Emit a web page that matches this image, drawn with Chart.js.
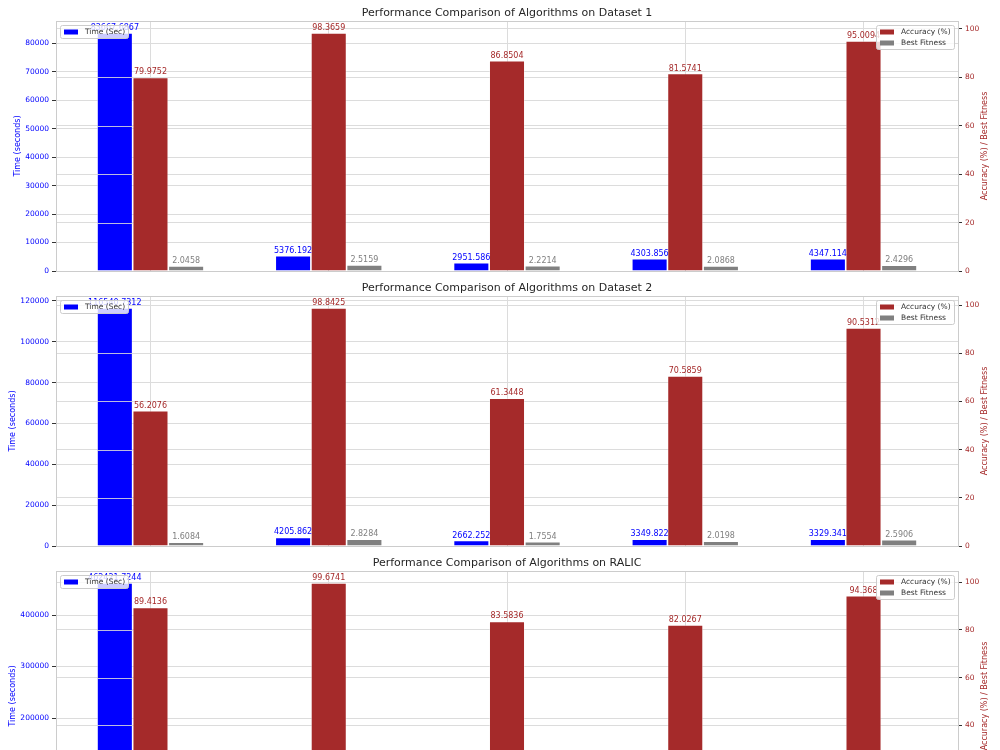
<!DOCTYPE html>
<html>
<head>
<meta charset="utf-8">
<title>Performance Comparison of Algorithms</title>
<script src="https://cdn.jsdelivr.net/npm/chart.js@4.4.0/dist/chart.umd.min.js"></script>
<style>
    html, body { margin: 0; padding: 0; background: #fff; }
    #wrap { width: 1000px; height: 750px; overflow: hidden; position: relative; }
    .panel { position: absolute; left: 0; width: 1000px; height: 275px; }
</style>
</head>
<body>
<div id="wrap">
    <div class="panel" style="top:0px"><canvas id="chart1" width="1000" height="275"></canvas></div>
    <div class="panel" style="top:275px"><canvas id="chart2" width="1000" height="275"></canvas></div>
    <div class="panel" style="top:550px"><canvas id="chart3" width="1000" height="275"></canvas></div>
</div>
<script>
// Datos
const algPositions = [0, 1, 2, 3, 4];

const time1 = [83667.6867, 5376.192, 2951.586, 4303.856, 4347.114];
const acc1 = [79.9752, 98.3659, 86.8504, 81.5741, 95.0094];
const fit1 = [2.0458, 2.5159, 2.2214, 2.0868, 2.4296];

const time2 = [116540.7312, 4205.862, 2662.252, 3349.822, 3329.341];
const acc2 = [56.2076, 98.8425, 61.3448, 70.5859, 90.5312];
const fit2 = [1.6084, 2.8284, 1.7554, 2.0198, 2.5906];

// RALIC: la parte baja del panel queda fuera de la imagen
const time3 = [462421.7244, 18524.663, 10217.418, 14102.937, 13988.205];
const acc3 = [89.4136, 99.6741, 83.5836, 82.0267, 94.368];
const fit3 = [2.4517, 2.9876, 1.9342, 2.1125, 2.7733];

const leftTicks1 = [0, 10000, 20000, 30000, 40000, 50000, 60000, 70000, 80000];
const leftTicks2 = [0, 20000, 40000, 60000, 80000, 100000, 120000];
const leftTicks3 = [0, 100000, 200000, 300000, 400000];
const rightTicks = [0, 20, 40, 60, 80, 100];

// Colores
const BLUE = '#0000ff';
const BROWN = '#a52a2a';
const GREY = '#808080';
const GRID = '#dcdcdc';
const SPINE = '#cccccc';
const TICK_FONT = "7.5px 'DejaVu Sans'";

Chart.defaults.font.family = "'DejaVu Sans', sans-serif";

function roundRect(ctx, x, y, w, h, r) {
    ctx.beginPath();
    ctx.moveTo(x + r, y);
    ctx.lineTo(x + w - r, y);
    ctx.quadraticCurveTo(x + w, y, x + w, y + r);
    ctx.lineTo(x + w, y + h - r);
    ctx.quadraticCurveTo(x + w, y + h, x + w - r, y + h);
    ctx.lineTo(x + r, y + h);
    ctx.quadraticCurveTo(x, y + h, x, y + h - r);
    ctx.lineTo(x, y + r);
    ctx.quadraticCurveTo(x, y, x + r, y);
    ctx.closePath();
}

// Estilo tipo matplotlib: título, etiquetas, spines y leyendas
const mplStyle = {
    id: 'mplStyle',
    afterDatasetDraw(chart, args) {
        // la rejilla del eje derecho queda encima de las barras azules
        if (args.index !== 0) return;
        const ctx = chart.ctx;
        const y2 = chart.scales.y2;
        ctx.save();
        ctx.strokeStyle = 'rgba(220,220,220,0.85)';
        ctx.lineWidth = 1;
        args.meta.data.forEach(bar => {
            const x0 = bar.x - bar.width / 2;
            const x1 = bar.x + bar.width / 2;
            rightTicks.forEach(v => {
                const py = Math.round(y2.getPixelForValue(v)) + 0.5;
                if (py > bar.y && py < bar.base - 1) {
                    ctx.beginPath();
                    ctx.moveTo(x0, py);
                    ctx.lineTo(x1, py);
                    ctx.stroke();
                }
            });
        });
        ctx.restore();
    },
    afterDatasetsDraw(chart) {
        const ctx = chart.ctx;
        const colors = [BLUE, BROWN, GREY];
        ctx.save();
        ctx.font = "8px 'DejaVu Sans'";
        ctx.textAlign = 'center';
        ctx.textBaseline = 'bottom';
        chart.data.datasets.forEach((ds, di) => {
            const meta = chart.getDatasetMeta(di);
            ctx.fillStyle = colors[di];
            meta.data.forEach((bar, i) => {
                ctx.fillText(String(ds.data[i].y), bar.x, bar.y - 1);
            });
        });
        // spines
        const a = chart.chartArea;
        ctx.strokeStyle = SPINE;
        ctx.lineWidth = 1;
        ctx.strokeRect(Math.round(a.left) + 0.5, Math.round(a.top) + 0.5,
            Math.round(a.right - a.left), Math.round(a.bottom - a.top));
        ctx.restore();
    },
    afterDraw(chart, args, opts) {
        const ctx = chart.ctx;
        const a = chart.chartArea;
        ctx.save();
        // título
        ctx.fillStyle = '#262626';
        ctx.font = "11px 'DejaVu Sans'";
        ctx.textAlign = 'center';
        ctx.textBaseline = 'middle';
        ctx.fillText(opts.title, (a.left + a.right) / 2, 13.5);

        // títulos de ejes (el izquierdo se aparta según el ancho de las etiquetas)
        ctx.font = TICK_FONT;
        const maxW = Math.max(...opts.leftTicks.map(v => ctx.measureText(String(v)).width));
        const labelX = a.left - 7 - maxW - 7.5;
        ctx.font = "8px 'DejaVu Sans'";
        ctx.fillStyle = BLUE;
        ctx.translate(labelX, (a.top + a.bottom) / 2);
        ctx.rotate(-Math.PI / 2);
        ctx.fillText('Time (seconds)', 0, 0);
        ctx.setTransform(1, 0, 0, 1, 0, 0);
        ctx.fillStyle = BROWN;
        ctx.translate(985, (a.top + a.bottom) / 2);
        ctx.rotate(-Math.PI / 2);
        ctx.fillText('Accuracy (%) / Best Fitness', 0, 0);
        ctx.setTransform(1, 0, 0, 1, 0, 0);

        // leyenda izquierda
        ctx.font = TICK_FONT;
        ctx.textAlign = 'left';
        roundRect(ctx, 60.5, 25.5, 68, 13, 2);
        ctx.fillStyle = 'rgba(255,255,255,0.8)';
        ctx.fill();
        ctx.strokeStyle = SPINE;
        ctx.stroke();
        ctx.fillStyle = BLUE;
        ctx.fillRect(64, 29.5, 14, 5);
        ctx.fillStyle = '#333';
        ctx.fillText('Time (Sec)', 85, 32);

        // leyenda derecha
        roundRect(ctx, 876.5, 25.5, 78, 24, 2);
        ctx.fillStyle = 'rgba(255,255,255,0.8)';
        ctx.fill();
        ctx.strokeStyle = SPINE;
        ctx.stroke();
        ctx.fillStyle = BROWN;
        ctx.fillRect(880, 29.5, 14, 5);
        ctx.fillStyle = GREY;
        ctx.fillRect(880, 40.5, 14, 5);
        ctx.fillStyle = '#333';
        ctx.fillText('Accuracy (%)', 901, 32);
        ctx.fillText('Best Fitness', 901, 43);
        ctx.restore();
    }
};

// sin márgenes extra por las etiquetas de los ejes verticales
function fixVertical(width) {
    return (s) => {
        s.width = width;
        s.paddingTop = 0;
        s.paddingBottom = 0;
    };
}

function makePanel(canvasId, title, times, accs, fits, leftTicks) {
    const toPoints = (vals) => vals.map((v, i) => ({ x: algPositions[i], y: v }));
    return new Chart(document.getElementById(canvasId), {
        type: 'bar',
        data: {
            datasets: [
                {
                    label: 'Time (Sec)',
                    data: toPoints(times),
                    backgroundColor: BLUE,
                    borderColor: 'rgba(255,255,255,0.55)',
                    borderWidth: 0.8,
                    yAxisID: 'y'
                },
                {
                    label: 'Accuracy (%)',
                    data: toPoints(accs),
                    backgroundColor: BROWN,
                    borderColor: 'rgba(255,255,255,0.55)',
                    borderWidth: 0.8,
                    yAxisID: 'y2'
                },
                {
                    label: 'Best Fitness',
                    data: toPoints(fits),
                    backgroundColor: GREY,
                    borderColor: 'rgba(255,255,255,0.55)',
                    borderWidth: 0.8,
                    yAxisID: 'y2'
                }
            ]
        },
        options: {
            responsive: false,
            animation: false,
            devicePixelRatio: 1,
            categoryPercentage: 0.6,
            barPercentage: 1.0,
            layout: { padding: { top: 21, left: 0, right: 0, bottom: 0 } },
            scales: {
                x: {
                    type: 'linear',
                    min: -0.53,
                    max: 4.53,
                    offset: false,
                    afterBuildTicks: (s) => { s.ticks = algPositions.map(v => ({ value: v })); },
                    afterFit: (s) => { s.height = 4; s.paddingLeft = 0; s.paddingRight = 0; },
                    ticks: { display: false },
                    grid: { color: GRID, offset: false, drawTicks: false },
                    border: { display: false }
                },
                y: {
                    position: 'left',
                    min: 0,
                    max: Math.max(...times) * 1.05,
                    afterBuildTicks: (s) => { s.ticks = leftTicks.map(v => ({ value: v })); },
                    afterFit: fixVertical(56),
                    ticks: { color: BLUE, font: { size: 7.5 }, padding: 3, callback: (v) => String(v) },
                    grid: { color: GRID, tickColor: '#333', tickLength: 4 },
                    border: { display: false }
                },
                y2: {
                    position: 'right',
                    min: 0,
                    max: Math.max(...accs) * 1.05,
                    afterBuildTicks: (s) => { s.ticks = rightTicks.map(v => ({ value: v })); },
                    afterFit: fixVertical(42),
                    ticks: { color: BROWN, font: { size: 7.5 }, padding: 3, callback: (v) => String(v) },
                    grid: { color: GRID, tickColor: '#333', tickLength: 4 },
                    border: { display: false }
                }
            },
            plugins: {
                legend: { display: false },
                tooltip: { enabled: false },
                mplStyle: { title: title, leftTicks: leftTicks }
            }
        },
        plugins: [mplStyle]
    });
}

makePanel('chart1', 'Performance Comparison of Algorithms on Dataset 1', time1, acc1, fit1, leftTicks1);
makePanel('chart2', 'Performance Comparison of Algorithms on Dataset 2', time2, acc2, fit2, leftTicks2);
makePanel('chart3', 'Performance Comparison of Algorithms on RALIC', time3, acc3, fit3, leftTicks3);
</script>
</body>
</html>
